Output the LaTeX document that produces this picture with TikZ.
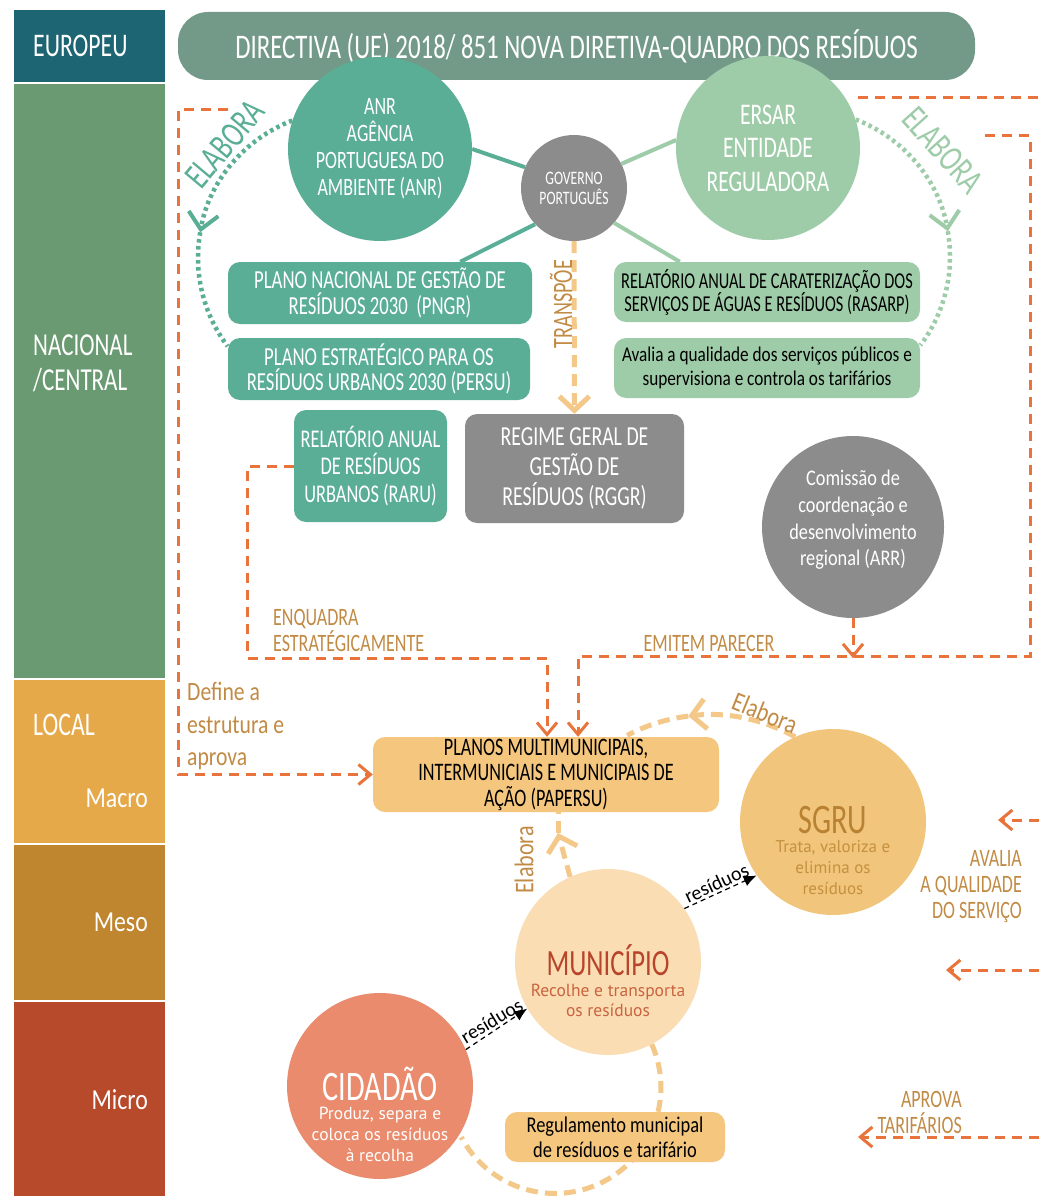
\documentclass[tikz,border=0pt]{standalone}
\usepackage{fontspec}
\setmainfont{Carlito}
\newfontfamily\capsfont[FakeStretch=0.72]{Carlito}
\newfontfamily\narrowfont[FakeStretch=0.82]{Carlito}
\newfontfamily\roundfont{PT Sans}
\usepackage{tikz}
\tikzset{>=latex}
\usetikzlibrary{arrows.meta}
\definecolor{euteal}{HTML}{1E6573}
\definecolor{natgreen}{HTML}{6A9A72}
\definecolor{macroor}{HTML}{E5A94A}
\definecolor{mesoor}{HTML}{C0852F}
\definecolor{microred}{HTML}{B84A2C}
\definecolor{bannergreen}{HTML}{739A89}
\definecolor{anrteal}{HTML}{5BAE96}
\definecolor{ersgreen}{HTML}{9ECCA8}
\definecolor{govgray}{HTML}{8C8C8C}
\definecolor{linkor}{HTML}{E8743B}
\definecolor{labelor}{HTML}{C28B45}
\definecolor{planor}{HTML}{F5C77E}
\definecolor{sgruor}{HTML}{F1C57C}
\definecolor{munor}{HTML}{FBDDB4}
\definecolor{cidor}{HTML}{E98B6C}
\definecolor{softor}{HTML}{F3C889}
\definecolor{munred}{HTML}{B8452B}
\definecolor{munsub}{HTML}{C8643F}
\definecolor{sgrubrown}{HTML}{B98232}
\definecolor{sgrusub}{HTML}{C4913F}
\newcommand{\fsz}[2]{\fontsize{#1}{#2}\selectfont}
\tikzset{
  bubble/.style={circle, fill=#1, draw=none, minimum size=184pt, inner sep=0pt, align=center},
  plan/.style={rectangle, rounded corners=12pt, fill=#1, draw=none, inner sep=0pt, align=center},
  lvl/.style={inner sep=0pt, text=white},
  orlabel/.style={inner sep=0pt, text=labelor, font=\capsfont\fsz{25}{26}},
  plink/.style={linkor, line width=3pt, dash pattern=on 10pt off 7pt},
  ptip/.style={-{Straight Barb[length=12pt,width=20pt]}},
  softlink/.style={softor, line width=5pt, dash pattern=on 12pt off 7pt},
  softtip/.style={-{Straight Barb[length=14pt,width=30pt]}},
  dotarc/.style={#1, line width=4.5pt, dash pattern=on 3.5pt off 3.5pt},
  dottip/.style={-{Straight Barb[length=16pt,width=30pt,line width=4pt]}},
  spoke/.style={#1, line width=4pt},
  waste/.style={black, line width=1.2pt, dash pattern=on 5pt off 4pt, -{Latex[length=13pt,width=11pt]}},
  wastelabel/.style={font=\fsz{20}{20}, inner sep=2pt, anchor=south}
}

\begin{document}
\begin{tikzpicture}[x=1pt,y=-1pt]
  \useasboundingbox (0,0) rectangle (1039,1196);
  \fill[white] (0,0) rectangle (1039,1196);

  % level bands
  \fill[euteal] (14,10) rectangle (165,82);
  \fill[natgreen] (14,84) rectangle (165,678);
  \fill[macroor] (14,680) rectangle (165,843);
  \fill[mesoor] (14,845) rectangle (165,1000);
  \fill[microred] (14,1002) rectangle (165,1196);
  \node[lvl, anchor=west, font=\capsfont\fsz{33}{35}] (eu) at (33,46) {EUROPEU};
  \node[lvl, anchor=west, align=left, font=\capsfont\fsz{32}{35}] (nac) at (33,363) {NACIONAL\\/CENTRAL};
  \node[lvl, anchor=west, font=\capsfont\fsz{33}{35}] (loc) at (33,725) {LOCAL};
  \node[lvl, anchor=east, font=\narrowfont\fsz{29}{35}] (mac) at (148,798) {Macro};
  \node[lvl, anchor=east, font=\narrowfont\fsz{29}{35}] (mes) at (148,922) {Meso};
  \node[lvl, anchor=east, font=\narrowfont\fsz{29}{35}] (mic) at (148,1100) {Micro};

  % european level
  \node[plan=bannergreen, rounded corners=30pt, minimum width=797pt, minimum height=68pt,
        text=white, font=\capsfont\fsz{34.5}{40}] (dir) at (576.5,46)
        {DIRECTIVA (UE) 2018/ 851 NOVA DIRETIVA-QUADRO DOS RESÍDUOS};

  % national level
  \node[bubble=anrteal, text=white, font=\capsfont\fsz{25}{27}] (anr) at (380,149)
        {ANR\\AGÊNCIA\\PORTUGUESA DO\\AMBIENTE (ANR)};
  \node[bubble=ersgreen, text=white, font=\capsfont\fsz{30}{33.5}] (ersar) at (768,148)
        {ERSAR\\ENTIDADE\\REGULADORA};
  \node[bubble=govgray, minimum size=106pt, text=white, font=\capsfont\fsz{19}{20}] (gov) at (574,188)
        {GOVERNO\\PORTUGUÊS};

  \node[plan=anrteal, minimum width=304pt, minimum height=62pt, text=white,
        font=\capsfont\fsz{26}{26}] (pngr) at (380,293)
        {PLANO NACIONAL DE GESTÃO DE\\RESÍDUOS 2030~~(PNGR)};
  \node[plan=anrteal, minimum width=302pt, minimum height=62pt, text=white,
        font=\capsfont\fsz{26}{25}] (persu) at (379,369)
        {PLANO ESTRATÉGICO PARA OS\\RESÍDUOS URBANOS 2030 (PERSU)};
  \node[plan=anrteal, minimum width=153pt, minimum height=112pt, text=white,
        font=\capsfont\fsz{25.5}{27.5}] (raru) at (370.5,466)
        {RELATÓRIO ANUAL\\DE RESÍDUOS\\URBANOS (RARU)};
  \node[plan=govgray, minimum width=219pt, minimum height=109pt, text=white,
        font=\capsfont\fsz{27.5}{30}] (rggr) at (574.5,468.5)
        {REGIME GERAL DE\\GESTÃO DE\\RESÍDUOS (RGGR)};
  \node[plan=ersgreen, minimum width=306pt, minimum height=60pt, text=black,
        font=\capsfont\fsz{22.7}{23}] (rasarp) at (767,292)
        {RELATÓRIO ANUAL DE CARATERIZAÇÃO DOS\\SERVIÇOS DE ÁGUAS E RESÍDUOS (RASARP)};
  \node[plan=ersgreen, minimum width=306pt, minimum height=60pt, text=black,
        font=\narrowfont\fsz{21}{24}] (aval) at (767,368)
        {Avalia a qualidade dos serviços públicos e\\supervisiona e controla os tarifários};
  \node[bubble=govgray, minimum size=182pt] (arr) at (853,527) {};
  \node[text=white, align=center, font=\narrowfont\fsz{22.3}{26.7}] (arr-t) at (853,520)
        {Comissão de\\coordenação e\\desenvolvimento\\regional (ARR)};

  % spokes of the government
  \draw[spoke=anrteal] (anr.0) -- (gov.157);
  \draw[spoke=anrteal] (gov.223) -- ([xshift=-72pt]pngr.north east);
  \draw[spoke=ersgreen] (gov.27) -- (ersar.175);
  \draw[spoke=ersgreen] (gov.-41) -- ([xshift=66pt]rasarp.north west);

  % elabora arcs
  \draw[dotarc=anrteal, dottip] (anr.162) arc[start angle=-111, end angle=-170, radius=147] coordinate (elabL);
  \draw[dotarc=anrteal] (elabL) arc[start angle=-170, end angle=-217, radius=147];
  \draw[dotarc=ersgreen, dottip] (ersar.18) arc[start angle=-69, end angle=-10, radius=147] coordinate (elabR);
  \draw[dotarc=ersgreen] (elabR) arc[start angle=-10, end angle=37, radius=147];
  \node[text=anrteal, rotate=50, inner sep=0pt, font=\capsfont\fsz{37}{37}] (elabLt) at (225,144) {ELABORA};
  \node[text=ersgreen, rotate=-48, inner sep=0pt, font=\capsfont\fsz{37}{37}] (elabRt) at (943,150) {ELABORA};

  \draw[softlink, softtip] (gov) -- (rggr);
  \node[orlabel, rotate=90, font=\capsfont\fsz{28}{28}] (transp) at (561,304) {TRANSPÕE};

  % local level
  \node[plan=planor, minimum width=346pt, minimum height=75pt, text=black,
        font=\capsfont\fsz{25.2}{25.5}] (papersu) at (546,774.5)
        {PLANOS MULTIMUNICIPAIS,\\INTERMUNICIAIS E MUNICIPAIS DE\\AÇÃO (PAPERSU)};
  \node[bubble=sgruor, minimum size=186pt] (sgru) at (833,822) {};
  \node[text=sgrubrown, inner sep=0pt, font=\capsfont\fsz{42}{42}] (sgru-t) at (833,820) {SGRU};
  \node[text=sgrusub, align=center, font=\roundfont\fsz{17}{21}] (sgru-s) at (833,868)
        {Trata, valoriza e\\elimina os\\resíduos};
  \node[bubble=munor, minimum size=186pt] (mun) at (608,962) {};
  \node[text=munred, inner sep=0pt, font=\capsfont\fsz{37}{37}] (mun-t) at (608,960) {MUNICÍPIO};
  \node[text=munsub, align=center, font=\roundfont\fsz{17.5}{20}] (mun-s) at (608,1000)
        {Recolhe e transporta\\os resíduos};
  \node[bubble=cidor, minimum size=186pt] (cid) at (380,1086) {};
  \node[text=white, inner sep=0pt, font=\capsfont\fsz{42}{42}] (cid-t) at (380,1084) {CIDADÃO};
  \node[text=white, align=center, font=\roundfont\fsz{17.5}{21}] (cid-s) at (380,1134)
        {Produz, separa e\\coloca os resíduos\\à recolha};

  % cycle behind the regulation
  \draw[softlink] (mun.-62) arc[start angle=-24, end angle=152, radius=106];
  \node[plan=planor, minimum width=220pt, minimum height=50pt, text=black,
        font=\narrowfont\fsz{22.5}{25}] (regul) at (615,1137)
        {Regulamento municipal\\de resíduos e tarifário};

  \draw[softlink, softtip] (sgru.114) arc[start angle=-61, end angle=-97, radius=176] coordinate (elabS);
  \draw[softlink] (elabS) arc[start angle=-97, end angle=-118, radius=176];
  \node[orlabel, rotate=-22, font=\narrowfont\fsz{27}{27}] (elabSt) at (765,713) {Elabora};
  \coordinate (elabM) at (558,833);
  \draw[softlink, softtip] (mun.114) -- (elabM);
  \draw[softlink] (elabM) -- (elabM |- papersu.south);
  \node[orlabel, rotate=90, font=\narrowfont\fsz{27}{27}] (elabMt) at (524,860) {Elabora};

  \draw[waste] (cid.23) -- (mun.210) node[wastelabel, rotate=31, midway] (w1) {resíduos};
  \draw[waste] (mun.35) -- (sgru.215) node[wastelabel, rotate=25, midway] (w2) {resíduos};

  % orange links
  \coordinate (defstart) at (228,110);
  \draw[plink, ptip] (defstart) -- ++(-50,0) |- (papersu.west);
  \node[orlabel, anchor=west, align=left, font=\narrowfont\fsz{26.4}{32.5}] (defl) at (187,726)
        {Define a\\estrutura e\\aprova};
  \draw[plink, ptip] (raru.west) -- ++(-46,0) -- ++(0,192) -| ([xshift=1pt]papersu.north);
  \node[orlabel, anchor=west, align=left] (enq) at (273,630) {ENQUADRA\\ESTRATÉGICAMENTE};
  \coordinate (emstart) at (985,136);
  \draw[plink, ptip] (emstart) -- ++(45,0) -- ++(0,520) -| ([xshift=32pt]papersu.north);
  \draw[plink, ptip] (arr.south) -- ++(0,40);
  \node[orlabel] (emit) at (709,643) {EMITEM PARECER};
  \coordinate (erstart) at (858,98);
  \coordinate (edgetop) at (1039,98);
  \draw[plink] (erstart) -- (edgetop);

  \coordinate (edgeq1) at (1039,820);
  \coordinate (q1end) at (998,820);
  \draw[plink, ptip] (edgeq1) -- (q1end);
  \coordinate (edgeq2) at (1039,970);
  \coordinate (q2end) at (946,970);
  \draw[plink, ptip] (edgeq2) -- (q2end);
  \node[orlabel, anchor=east, align=right] (qual) at (1022,887) {AVALIA\\A QUALIDADE\\DO SERVIÇO};
  \coordinate (edgetar) at (1039,1137);
  \coordinate (tarend) at (858,1137);
  \draw[plink, ptip] (edgetar) -- (tarend);
  \node[orlabel, anchor=east, align=right] (tar) at (962,1112) {APROVA\\TARIFÁRIOS};
\end{tikzpicture}
\end{document}
